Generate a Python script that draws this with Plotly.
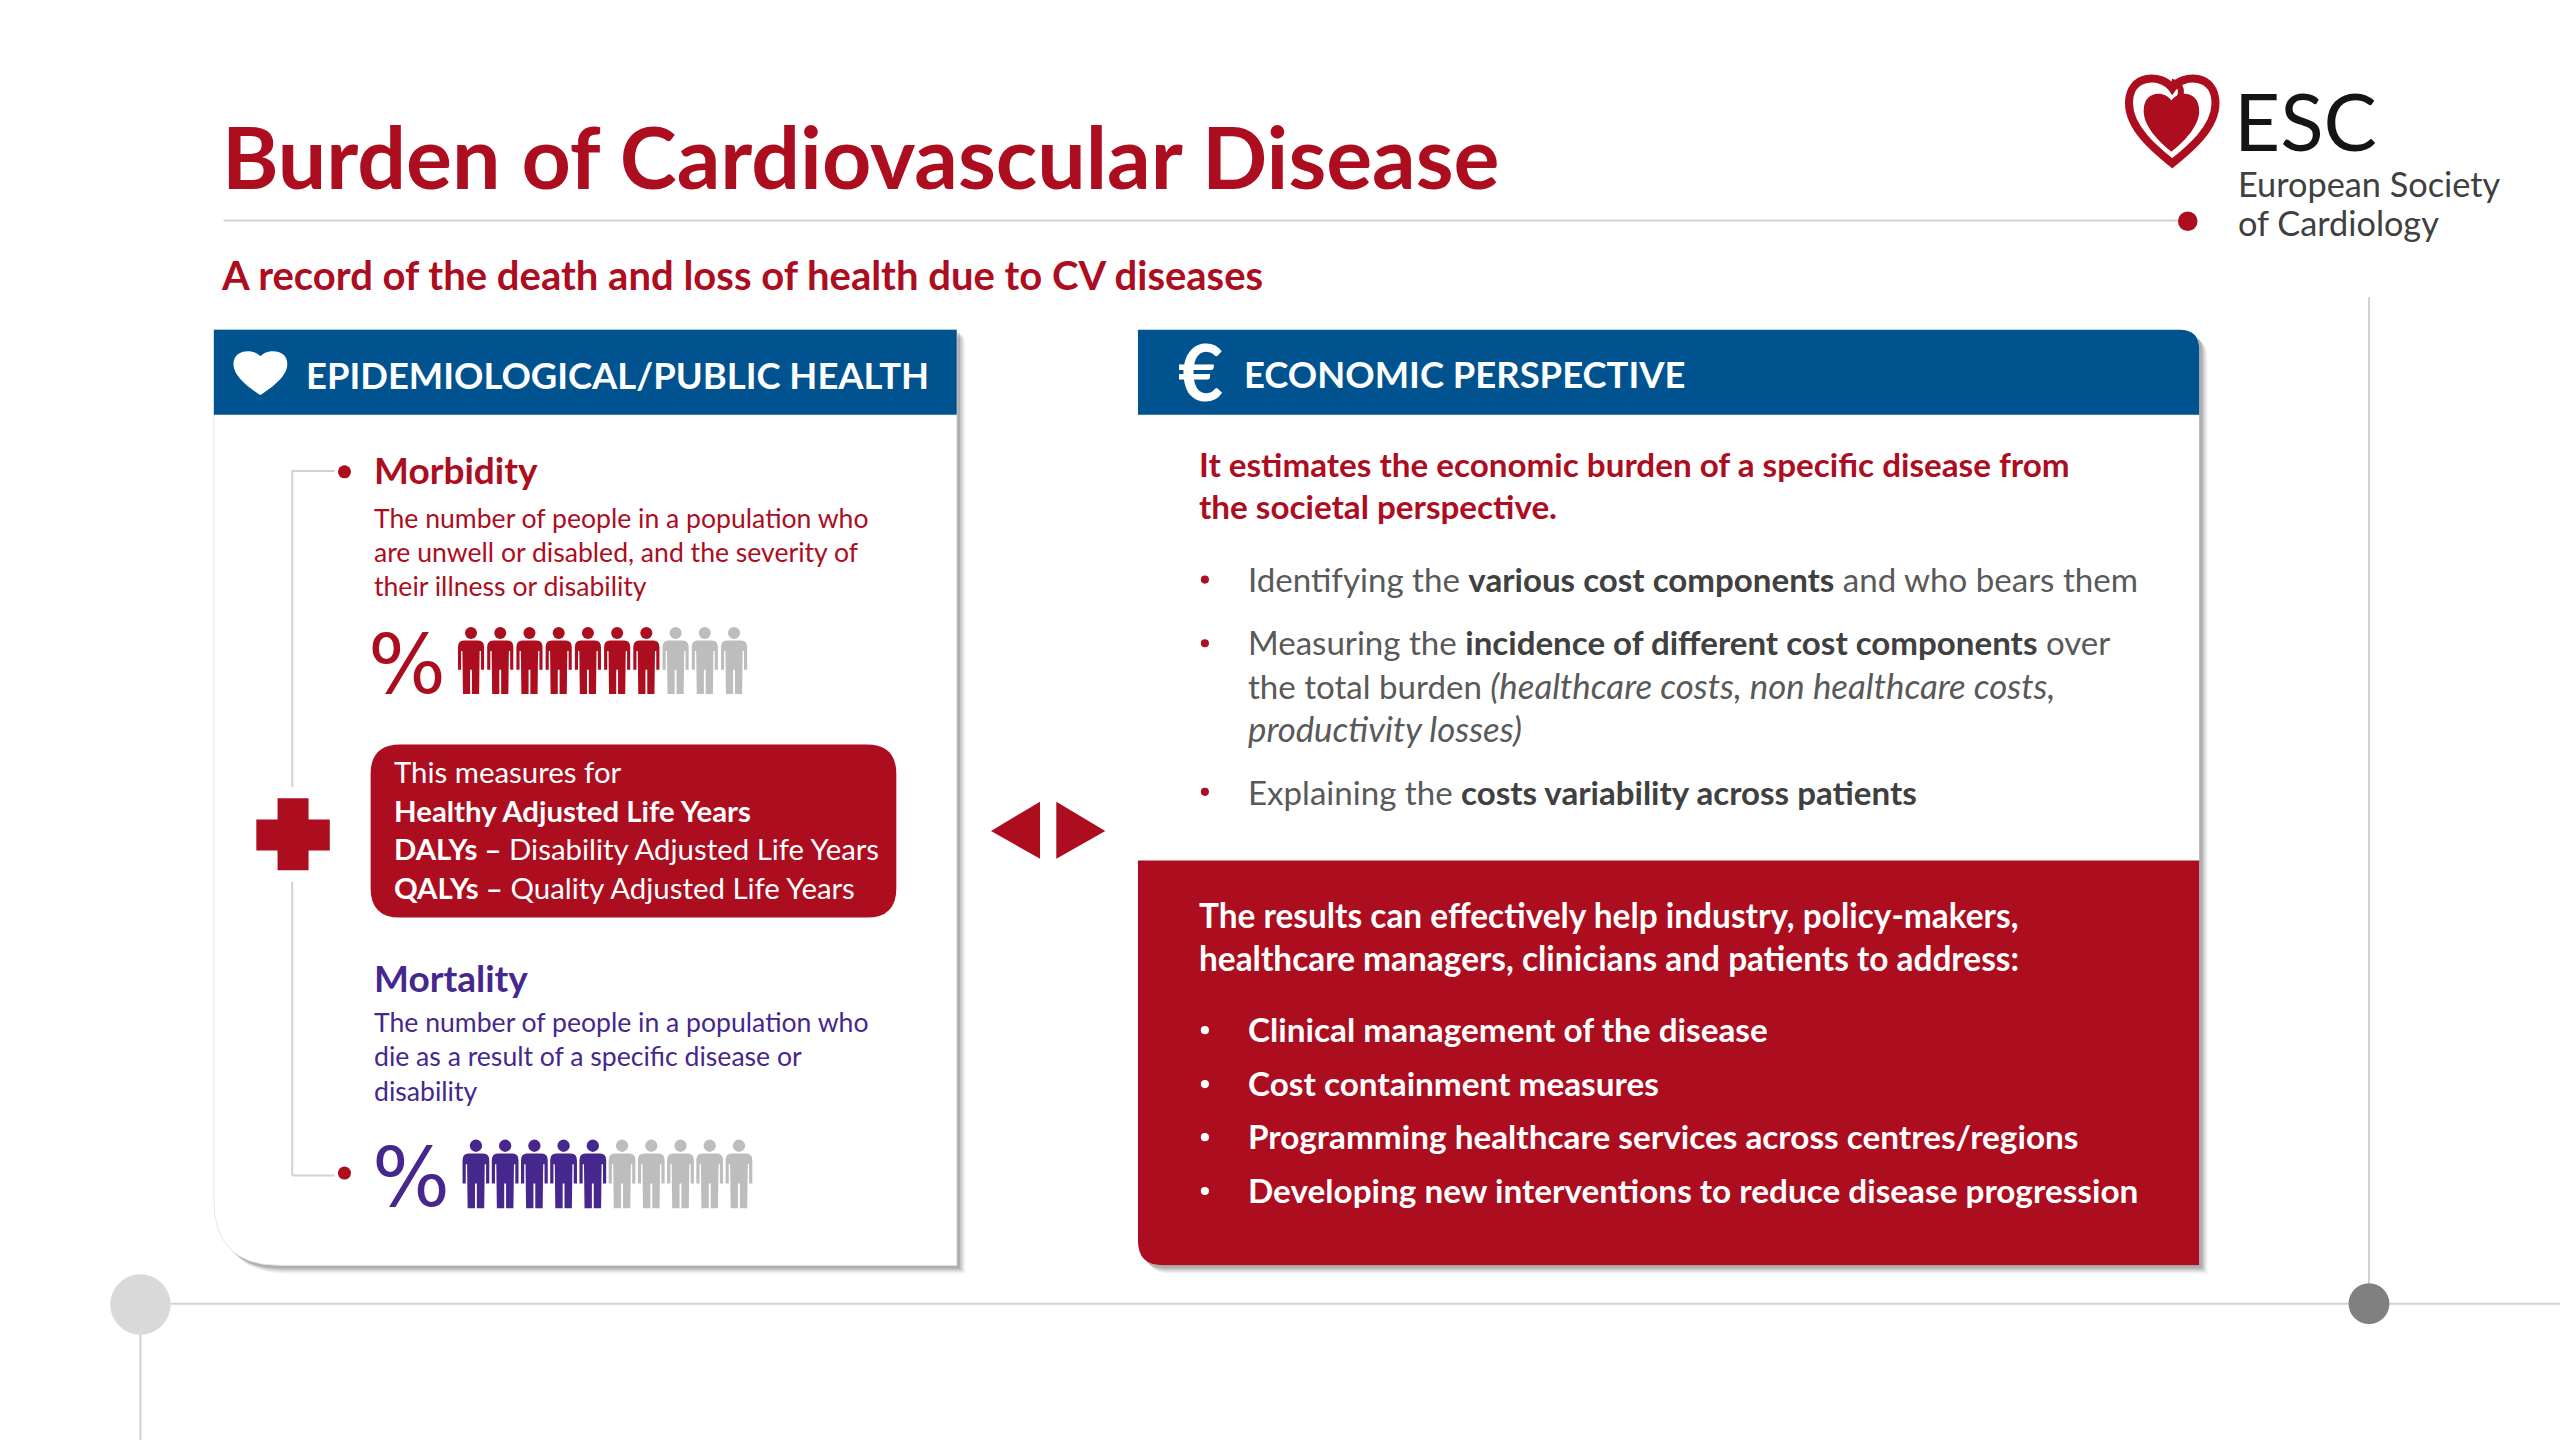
import plotly.graph_objects as go

# ---- content -------------------------------------------------------------
TITLE = "Burden of Cardiovascular Disease"
SUBTITLE = "A record of the death and loss of health due to CV diseases"
LEFT_HEADER = "EPIDEMIOLOGICAL/PUBLIC HEALTH"
RIGHT_HEADER = "ECONOMIC PERSPECTIVE"
MORBIDITY_LINES = ["The number of people in a population who",
                   "are unwell or disabled, and the severity of",
                   "their illness or disability"]
MORTALITY_LINES = ["The number of people in a population who",
                   "die as a result of a specific disease or",
                   "disability"]
MEASURE_LINES = ["This measures for",
                 "<b>Healthy Adjusted Life Years</b>",
                 "<b>DALYs –</b> Disability Adjusted Life Years",
                 "<b>QALYs –</b> Quality Adjusted Life Years"]
INTRO_LINES = ["It estimates the economic burden of a specific disease from",
               "the societal perspective."]
B = "<span style='color:#404040'><b>%s</b></span>"
I = "<span style='font-size:34.8px'><i>%s</i></span>"
COST_LINES = ["Identifying the " + B % "various cost components" + " and who bears them",
              "Measuring the " + B % "incidence of different cost components" + " over",
              "the total burden " + I % "(healthcare costs, non healthcare costs,",
              I % "productivity losses)",
              "Explaining the " + B % "costs variability across patients"]
RESULT_INTRO = ["The results can effectively help industry, policy-makers,",
                "healthcare managers, clinicians and patients to address:"]
RESULT_BULLETS = ["Clinical management of the disease",
                  "Cost containment measures",
                  "Programming healthcare services across centres/regions",
                  "Developing new interventions to reduce disease progression"]
PEOPLE_TOTAL = 10
MORBIDITY_FILLED = 7
MORTALITY_FILLED = 5

RED = "#AC0D1F"; BLUE = "#00538F"; PURPLE = "#46278E"; GREY_ICON = "#BDBDBD"
TEXT = "#595959"; LINE = "#D2D2D2"; FONT = "Lato"

shapes, notes = [], []

def rr(x0, y0, x1, y1, tl=0, tr=0, br=0, bl=0):
    p = f"M{x0+tl},{y0} L{x1-tr},{y0} "
    if tr: p += f"Q{x1},{y0} {x1},{y0+tr} "
    p += f"L{x1},{y1-br} "
    if br: p += f"Q{x1},{y1} {x1-br},{y1} "
    p += f"L{x0+bl},{y1} "
    if bl: p += f"Q{x0},{y1} {x0},{y1-bl} "
    p += f"L{x0},{y0+tl} "
    if tl: p += f"Q{x0},{y0} {x0+tl},{y0} "
    return p + "Z"

def path(d, fill=None, color=None, width=0):
    shapes.append(dict(type="path", path=d, xref="x", yref="y", layer="below",
                       fillcolor=fill or "rgba(0,0,0,0)",
                       line=dict(color=color or "rgba(0,0,0,0)", width=width)))

def seg(x0, y0, x1, y1, color=LINE, width=2):
    shapes.append(dict(type="line", x0=x0, y0=y0, x1=x1, y1=y1, xref="x", yref="y",
                       layer="below", line=dict(color=color, width=width)))

def dot(cx, cy, r, fill):
    shapes.append(dict(type="circle", x0=cx-r, x1=cx+r, y0=cy-r, y1=cy+r, xref="x", yref="y",
                       layer="below", fillcolor=fill, line=dict(width=0)))

def text(x, y, s, size, color, bold=False, anchor="left", family=FONT):
    notes.append(dict(x=x, y=y - 1, xref="x", yref="y", text=f"<b>{s}</b>" if bold else s,
                      showarrow=False, xanchor=anchor, yanchor="middle", align="left",
                      borderpad=0, font=dict(family=family, size=size, color=color)))

def heart(x, y, w, h):
    X = lambda v: x + v * w
    Y = lambda v: y + v * h
    return (f"M{X(.5)},{Y(.15)} C{X(.38)},{Y(-.02)} {X(0)},{Y(-.02)} {X(0)},{Y(.32)} "
            f"C{X(0)},{Y(.62)} {X(.35)},{Y(.88)} {X(.5)},{Y(1)} "
            f"C{X(.65)},{Y(.88)} {X(1)},{Y(.62)} {X(1)},{Y(.32)} "
            f"C{X(1)},{Y(-.02)} {X(.62)},{Y(-.02)} {X(.5)},{Y(.15)} Z")

def person(cx, top, h, fill):
    w = h * 0.195
    r = h * 0.09
    dot(cx, top + r, r, fill)
    s = top + 2.25 * r
    yv = lambda v: top + v * h
    xv = lambda v: cx + v * w
    d = (f"M{xv(-.55)},{s} L{xv(.55)},{s} Q{xv(1)},{s} {xv(1)},{yv(.30)} L{xv(1)},{yv(.64)} "
         f"L{xv(.76)},{yv(.64)} L{xv(.76)},{yv(.36)} L{xv(.66)},{yv(.36)} L{xv(.62)},{yv(1)} "
         f"L{xv(.07)},{yv(1)} L{xv(.07)},{yv(.64)} L{xv(-.07)},{yv(.64)} L{xv(-.07)},{yv(1)} "
         f"L{xv(-.62)},{yv(1)} L{xv(-.66)},{yv(.36)} L{xv(-.76)},{yv(.36)} L{xv(-.76)},{yv(.64)} "
         f"L{xv(-1)},{yv(.64)} L{xv(-1)},{yv(.30)} Q{xv(-1)},{s} {xv(-.55)},{s} Z")
    path(d, fill)

def shadow(x0, y0, x1, y1, **radii):
    for off, alpha in ((5, .10), (4, .14), (3, .20), (2, .28)):
        path(rr(x0 + off, y0 + off, x1 + off, y1 + off, **radii), f"rgba(110,110,110,{alpha})")

# ---- decoration lines -----------------------------------------------------
seg(137, 135, 1340, 135)
dot(1340, 135.5, 6, RED)
seg(86, 798.5, 1568, 798.5)
seg(86, 799, 86, 882)
seg(1451, 182, 1451, 798)
dot(86, 799, 18.5, "#D9D9D9")
dot(1451, 798.5, 12.5, "#808080")

# ---- title ----------------------------------------------------------------
text(135.5, 96.5, TITLE, 86, RED, bold=True)
text(134.5, 169.5, SUBTITLE, 40, RED, bold=True)

# ---- logo -----------------------------------------------------------------
path(heart(1304, 46, 53, 54), None, RED, 8)
path(heart(1313, 56, 34, 37), RED)
path("M1330,50 Q1338,52 1335,60", None, RED, 6)
text(1368, 74.5, "ESC", 80, "#151515")
text(1370, 113.5, "European Society", 34.3, "#404040")
text(1370, 137, "of Cardiology", 34.3, "#404040")

# ---- left panel -----------------------------------------------------------
PANEL_BL = 40
shadow(131, 202, 586, 775, bl=PANEL_BL)
path(rr(131, 202, 586, 775, bl=PANEL_BL), "white", "#E6E6E6", 1)
path(rr(131, 202, 586, 254), BLUE)
path(heart(143, 214, 33, 28), "white")
text(187, 230.5, LEFT_HEADER, 36.4, "white", bold=True)

seg(179, 288.5, 205, 288.5); seg(179, 288, 179, 482)
seg(179, 540, 179, 720); seg(179, 720, 205, 720)
dot(211, 289, 4, RED); dot(211, 718.5, 4, RED)
path("M170,489 L189,489 L189,502 L202,502 L202,521 L189,521 L189,533 L170,533 "
     "L170,521 L157,521 L157,502 L170,502 Z", RED)

text(228.5, 288.5, "Morbidity", 37, RED, bold=True)
for i, s in enumerate(MORBIDITY_LINES):
    text(228.5, 318 + i * 21, s, 26.6, RED)
text(224.5, 408, "%", 82, RED, family="DejaVu Sans")
for i in range(PEOPLE_TOTAL):
    person(288.5 + i * 17.9, 384, 41, RED if i < MORBIDITY_FILLED else GREY_ICON)

path(rr(227, 456, 549, 562, tl=18, tr=18, br=18, bl=18), RED)
for s, y in zip(MEASURE_LINES, (473.5, 497.5, 521, 544.5)):
    text(241, y, s, 29.4, "white")

text(228.5, 599.5, "Mortality", 37, PURPLE, bold=True)
for i, s in enumerate(MORTALITY_LINES):
    text(228.5, 627 + i * 21, s, 26.6, PURPLE)
text(227.5, 722, "%", 82, PURPLE, family="DejaVu Sans")
for i in range(PEOPLE_TOTAL):
    person(291.5 + i * 17.9, 698, 42, PURPLE if i < MORTALITY_FILLED else GREY_ICON)

# ---- arrows ----------------------------------------------------------------
path("M607,509 L637,491 L637,526 Z", RED)
path("M647,491 L647,526 L677,509 Z", RED)

# ---- right panel ----------------------------------------------------------
shadow(697, 202, 1347, 775, tr=12, bl=15)
path(rr(697, 202, 1347, 775, tr=12, bl=15), "white")
path(rr(697, 202, 1347, 254, tr=12), BLUE)
path(rr(697, 527, 1347, 775, bl=15), RED)
text(735, 228, "€", 78, "white", bold=True, anchor="center")
text(761.5, 230, RIGHT_HEADER, 36.4, "white", bold=True)

for s, y in zip(INTRO_LINES, (285, 311)):
    text(733.5, y, s, 33.2, RED, bold=True)
for s, y in zip(COST_LINES, (355.5, 394.5, 421, 447, 486)):
    text(763.5, y, s, 33.1, TEXT)
for y in (355, 394, 485):
    dot(738, y, 2.5, RED)

for s, y in zip(RESULT_INTRO, (561.5, 587.5)):
    text(733.5, y, s, 33.4, "white", bold=True)
for s, y in zip(RESULT_BULLETS, (631.5, 664.5, 697, 730)):
    text(763.5, y, s, 33.3, "white", bold=True)
    dot(738, y - .5, 2.5, "white")

# ---- figure ---------------------------------------------------------------
fig = go.Figure()
axis = dict(visible=False, showgrid=False, zeroline=False, fixedrange=True)
fig.update_layout(width=2560, height=1440, margin=dict(l=0, r=0, t=0, b=0),
                  paper_bgcolor="white", plot_bgcolor="white", showlegend=False,
                  xaxis=dict(range=[0, 1568], **axis),
                  yaxis=dict(range=[882, 0], **axis),
                  shapes=shapes, annotations=notes)
fig.write_html("out.html", config=dict(displayModeBar=False),
               post_script="document.body.style.margin='0';document.body.style.overflow='hidden';")
